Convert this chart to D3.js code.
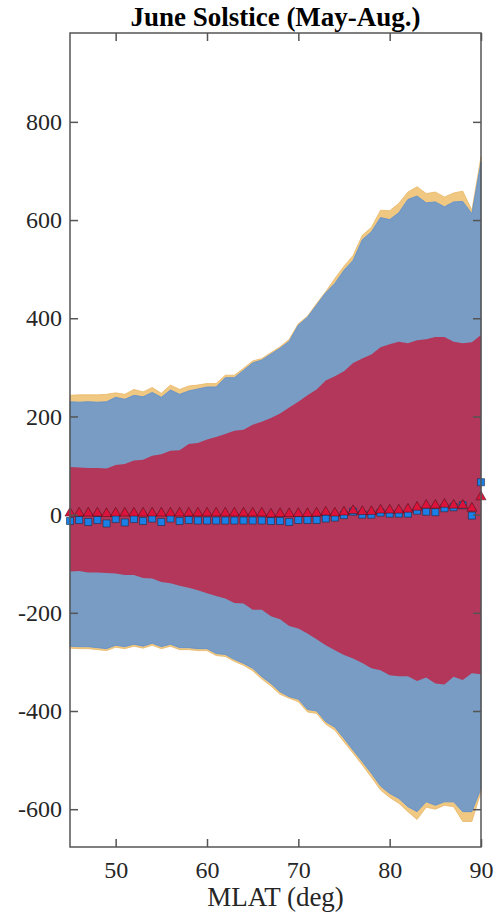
<!DOCTYPE html>
<html>
<head>
<meta charset="utf-8">
<script src="https://cdn.jsdelivr.net/npm/d3@7"></script>
<style>
    body { margin: 0; background: #fff; }
    text { font-family: "Liberation Serif", "Times New Roman", serif; }
</style>
</head>
<body>
<div id="chart-area"></div>
<script>
var mlat = [45, 46, 47, 48, 49, 50, 51, 52, 53, 54, 55, 56, 57, 58, 59, 60, 61, 62, 63, 64, 65, 66, 67,
    68, 69, 70, 71, 72, 73, 74, 75, 76, 77, 78, 79, 80, 81, 82, 83, 84, 85, 86, 87, 88, 89, 90];

// outer envelope (orange)
var outerUpper = [243, 244, 244, 244, 245, 248, 245, 255, 250, 259, 247, 264, 255, 262, 264, 267, 267, 284, 284, 298, 313, 318, 330,
    342, 357, 389, 404, 430, 454, 481, 506, 528, 569, 585, 620, 619, 634, 657, 668, 654, 657, 647, 655, 659, 620, 729];
var outerLower = [-272, -273, -273, -275, -277, -270, -273, -268, -272, -266, -273, -268, -275, -275, -277, -277, -287, -289, -299, -307, -318, -335, -349,
    -366, -374, -381, -402, -405, -427, -439, -463, -486, -510, -535, -561, -576, -588, -605, -621, -596, -600, -592, -595, -625, -625, -565];

// middle envelope (blue)
var midUpper = [230, 229, 230, 229, 230, 239, 235, 243, 240, 249, 239, 254, 245, 252, 256, 260, 260, 279, 279, 294, 309, 315, 327,
    339, 353, 386, 402, 427, 452, 471, 498, 518, 560, 576, 605, 601, 615, 642, 649, 635, 637, 627, 637, 638, 613, 718];
var midLower = [-268, -269, -269, -271, -273, -266, -269, -264, -268, -262, -269, -264, -271, -271, -273, -273, -283, -285, -295, -303, -313, -330, -344,
    -361, -371, -376, -397, -400, -422, -433, -456, -480, -503, -527, -553, -568, -578, -595, -605, -585, -592, -585, -585, -605, -605, -558];

// inner envelope (red)
var innerUpper = [97, 96, 95, 95, 94, 101, 103, 110, 112, 120, 123, 130, 131, 144, 146, 153, 158, 164, 171, 173, 183, 189, 197,
    206, 218, 230, 243, 255, 273, 282, 292, 309, 318, 326, 341, 347, 352, 349, 355, 357, 362, 362, 352, 349, 351, 366];
var innerLower = [-116, -115, -118, -118, -119, -120, -123, -123, -129, -130, -137, -140, -145, -149, -154, -160, -166, -171, -180, -181, -194, -194, -207,
    -213, -227, -232, -242, -254, -266, -276, -286, -293, -302, -313, -317, -327, -329, -329, -339, -332, -344, -346, -330, -337, -323, -325];

// markers
var triVals = [3, 3, 3, 3, 2, 3, 3, 3, 3, 3, 3, 3, 3, 3, 3, 3, 3, 3, 3, 3, 3, 3, 1,
    2, 2, 2, 2, 3, 5, 3, 5, 8, 6, 6, 9, 9, 9, 11, 15, 19, 19, 21, 19, 19, 13, 36];
var sqVals = [-13, -11, -15, -11, -18, -9, -16, -9, -13, -8, -15, -8, -13, -11, -12, -12, -12, -12, -12, -12, -12, -12, -13,
    -13, -15, -11, -11, -11, -8, -6, -1, 6, 0, 0, 4, 2, 2, 2, 8, 6, 5, 13, 15, 19, -2, 66];

var xTicks = [50, 60, 70, 80, 90];
var yTicks = [-600, -400, -200, 0, 200, 400, 600, 800];

var margin = { top: 33, right: 15, bottom: 70, left: 70 };
var width = 496 - margin.left - margin.right;
var height = 917 - margin.top - margin.bottom;

var svg = d3.select('#chart-area')
    .append('svg')
    .attr('width', 496)
    .attr('height', 917);

var g = svg.append('g')
    .attr('transform', 'translate(' + margin.left + ',' + margin.top + ')');

var x = d3.scaleLinear().domain([45, 90]).range([0, width]);
var y = d3.scaleLinear().domain([-677, 981]).range([height, 0]);

function band(upper, lower) {
    return d3.area()
        .x(function (d, i) { return x(mlat[i]); })
        .y0(function (d, i) { return y(lower[i]); })
        .y1(function (d, i) { return y(upper[i]); })(mlat);
}

g.append('path').attr('d', band(outerUpper, outerLower))
    .attr('fill', '#f0c882').attr('stroke', '#e8b868').attr('stroke-width', 0.8);
g.append('path').attr('d', band(midUpper, midLower))
    .attr('fill', '#789cc3').attr('stroke', '#5d8fd0').attr('stroke-width', 0.8);
g.append('path').attr('d', band(innerUpper, innerLower))
    .attr('fill', '#b3375a');

g.selectAll('.sq')
    .data(sqVals)
    .enter()
    .append('path')
    .attr('class', 'sq')
    .attr('d', d3.symbol().type(d3.symbolSquare).size(50))
    .attr('transform', function (d, i) {
        return 'translate(' + x(mlat[i]) + ',' + y(d) + ')';
    })
    .attr('fill', '#1a80e8')
    .attr('stroke', '#1d2a40')
    .attr('stroke-width', 0.6);

g.selectAll('.tri')
    .data(triVals)
    .enter()
    .append('path')
    .attr('class', 'tri')
    .attr('d', d3.symbol().type(d3.symbolTriangle).size(44))
    .attr('transform', function (d, i) {
        return 'translate(' + x(mlat[i]) + ',' + y(d) + ')';
    })
    .attr('fill', '#dc143c')
    .attr('stroke', '#3a0d16')
    .attr('stroke-width', 0.5);

// axes with inward ticks
var yAxisCall = d3.axisLeft(y)
    .tickValues(yTicks)
    .tickFormat(function (d) { return String(d); })
    .tickSize(-8)
    .tickSizeOuter(0)
    .tickPadding(8);
g.append('g').attr('class', 'axis').call(yAxisCall);

g.append('g').attr('class', 'axis')
    .attr('transform', 'translate(' + width + ',0)')
    .call(d3.axisRight(y).tickValues(yTicks).tickSize(-8).tickSizeOuter(0).tickFormat(''));

var xAxisCall = d3.axisBottom(x)
    .tickValues(xTicks)
    .tickFormat(function (d) { return String(d); })
    .tickSize(-8)
    .tickSizeOuter(0)
    .tickPadding(14);
g.append('g').attr('class', 'axis')
    .attr('transform', 'translate(0,' + height + ')')
    .call(xAxisCall);

g.append('g').attr('class', 'axis')
    .call(d3.axisTop(x).tickValues(xTicks).tickSize(-8).tickSizeOuter(0).tickFormat(''));

g.selectAll('.axis .domain').remove();
g.selectAll('.axis line').attr('stroke', '#555').attr('stroke-width', 1.5);
g.selectAll('.axis text')
    .attr('font-family', '"Liberation Serif", serif')
    .attr('font-size', 24)
    .attr('fill', '#262626');

g.append('rect')
    .attr('width', width)
    .attr('height', height)
    .attr('fill', 'none')
    .attr('stroke', '#555')
    .attr('stroke-width', 1.5);

svg.append('text')
    .attr('x', margin.left + width / 2)
    .attr('y', 26)
    .attr('text-anchor', 'middle')
    .attr('font-size', 27)
    .attr('font-weight', 'bold')
    .attr('fill', '#000')
    .text('June Solstice (May-Aug.)');

svg.append('text')
    .attr('x', margin.left + width / 2)
    .attr('y', 906)
    .attr('text-anchor', 'middle')
    .attr('font-size', 27)
    .attr('fill', '#262626')
    .text('MLAT (deg)');
</script>
</body>
</html>
